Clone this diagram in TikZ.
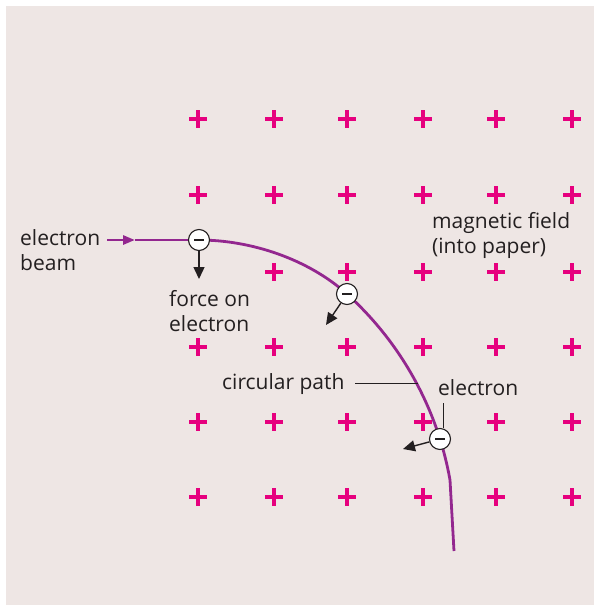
\documentclass[tikz,border=0pt]{standalone}
\usepackage{fontspec}
\setmainfont{Open Sans}
\usetikzlibrary{arrows.meta}
\definecolor{bg}{HTML}{EEE6E4}
\definecolor{fieldmag}{HTML}{E6007E}
\definecolor{beampurple}{HTML}{93278F}
\definecolor{txt}{HTML}{231F20}
\tikzset{
  plusmark/.style={fieldmag, line width=3.4pt},
  beamline/.style={beampurple, line width=2.8pt},
  electron/.style={circle, draw=txt, fill=white, line width=1.1pt, minimum size=21pt, inner sep=0pt,
    path picture={\draw[txt, line width=1.3pt] ([xshift=-5pt]path picture bounding box.center) -- ([xshift=5pt]path picture bounding box.center);}},
  force/.style={txt, line width=1.4pt, -{Triangle[length=12pt,width=11pt]}},
  lbl/.style={text=txt, font=\fontsize{21}{25}\selectfont, inner sep=0pt, align=left, anchor=base west},
  leader/.style={txt, line width=1pt}
}
\begin{document}
\begin{tikzpicture}[x=1pt,y=-1pt]
\useasboundingbox (0,0) rectangle (594,606);
\fill[bg] (6,6) rectangle (594,605);
% field crosses
\foreach \yy in {119,195,272,347,422,497}{
  \foreach \xx in {198,274,347,423,496,572}{
    \ifnum\yy=272 \ifnum\xx=198 \else
      \draw[plusmark] (\xx-9,\yy) -- (\xx+9,\yy) (\xx,\yy-9) -- (\xx,\yy+9);
    \fi\else
      \draw[plusmark] (\xx-9,\yy) -- (\xx+9,\yy) (\xx,\yy-9) -- (\xx,\yy+9);
    \fi
  }
}
% beam and path
\coordinate (b0) at (107,240);
\coordinate (b1) at (135,240);
\coordinate (p0) at (199,240);
\coordinate (p1) at (347,294);
\coordinate (p2) at (450,480);
\coordinate (p3) at (454,551);
\draw[beamline, -{Triangle[length=12pt,width=9pt]}] (b0) -- (b1);
\draw[beamline] (b1) -- (p0);
\draw[beamline] (p0) .. controls (251,240) and (308,259) .. (p1)
  .. controls (400.9,342.8) and (437.3,408.3) .. (p2) -- (p3);
% electrons
\node[electron] (e1) at (199,240) {};
\node[electron] (e2) at (347,294) {};
\node[electron] (e3) at (440,439) {};
% forces
\coordinate (f1) at (199,279);
\coordinate (f2) at (326,325);
\coordinate (f3) at (403,449);
\draw[force] (e1) -- (f1);
\draw[force] (e2) -- (f2);
\draw[force] (e3) -- (f3);
% labels (base anchor = baseline of last line)
\node[lbl] (lbeam) at (20,270) {electron\\beam};
\node[lbl] (lforce) at (169,331) {force on\\electron};
\node[lbl] (lfield) at (432,253) {magnetic field\\(into paper)};
\node[lbl] (lpath) at (222,389) {circular path};
\node[lbl] (lelec) at (438,395) {electron};
% leaders
\coordinate (c1) at (355,383);
\coordinate (c2) at (418,383);
\draw[leader] (c1) -- (c2);
\coordinate (c3) at (443,403);
\draw[leader] (c3) -- (c3 |- e3.north);
\end{tikzpicture}
\end{document}
